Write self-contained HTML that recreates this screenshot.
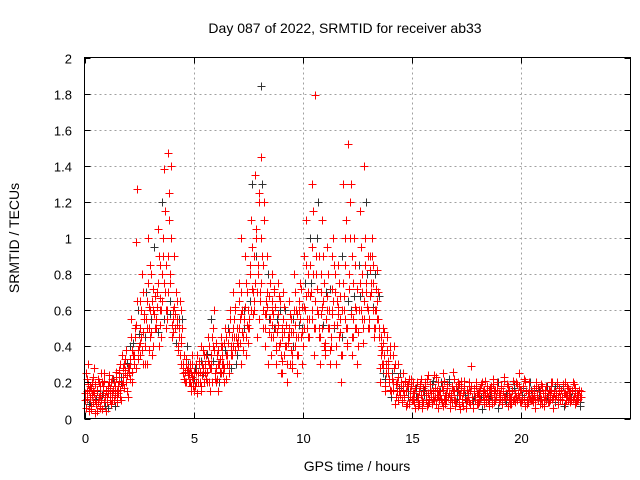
<!DOCTYPE html>
<html><head><meta charset="utf-8"><style>
body{margin:0;background:#fff;}
svg{display:block;font-family:"Liberation Sans",sans-serif;}
</style></head><body>
<svg id="chart" width="640" height="480" viewBox="0 0 640 480">
<rect width="640" height="480" fill="#fff"/>
<text x="345" y="33" font-size="14" text-anchor="middle">Day 087 of 2022, SRMTID for receiver ab33</text>
<g id="grid"></g>
<g id="marks"></g>
<rect x="84.5" y="57.5" width="546" height="361" fill="none" stroke="#000" stroke-width="1"/>
<g id="ticks"></g>
<text x="357" y="471" font-size="14" text-anchor="middle">GPS time / hours</text>
<text transform="translate(19,238) rotate(-90)" font-size="14" text-anchor="middle">SRMTID / TECUs</text>
</svg>
<script>
const xTicks=[0,5,10,15,20];
const yTicks=[0,0.2,0.4,0.6,0.8,1,1.2,1.4,1.6,1.8,2];
const yTickLabels=["0","0.2","0.4","0.6","0.8","1","1.2","1.4","1.6","1.8","2"];
const binStart=0, binWidth=0.25;
const srmtid=[
[.1,.25,.15,.3,.08,.18],[.12,.05,.2,.15,.28,.1],[.08,.15,.22,.12,.18,.06],[.1,.2,.14,.25,.07,.16],
[.12,.18,.24,.1,.15,.2],[.14,.22,.1,.18,.26,.12],[.18,.25,.3,.12,.2,.35],[.2,.3,.25,.38,.15,.28],
[.25,.4,.3,.55,.2,.35],[.3,.5,.98,1.27,.6,.4],[.35,.65,.45,.8,.3,.55],[.4,.7,.3,1.0,.5,.6],
[.45,.8,.35,.6,.95,.5],[.5,.7,1.05,.4,.85,.6],[.6,1.2,.9,1.38,.7,.5],[.55,1.47,1.1,.8,.65,1.0],
[.45,.6,.9,.5,.7,.55],[.4,.55,.65,.45,.6,.5],[.25,.35,.2,.3,.4,.28],[.2,.3,.25,.18,.35,.22],
[.15,.28,.2,.35,.25,.3],[.2,.4,.15,.3,.25,.35],[.25,.35,.2,.45,.3,.15],[.3,.55,.2,.4,.6,.25],
[.2,.35,.15,.3,.25,.45],[.25,.4,.3,.2,.5,.35],[.3,.5,.25,.6,.4,.35],[.35,.7,.45,.6,.3,.5],
[.4,.75,.55,1.0,.3,.6],[.45,.6,.9,.35,.7,.5],[.5,.8,1.1,.6,1.3,.7],[.6,1.35,1.0,.45,.8,1.2],
[.7,1.84,1.45,.9,.5,1.1],[.4,.65,.9,.3,.55,.75],[.35,.6,.8,.45,.7,.5],[.3,.55,.75,.4,.65,.25],
[.25,.5,.7,.35,.6,.4],[.2,.45,.65,.3,.55,.35],[.3,.55,.8,.4,.6,.25],[.35,.6,.75,.45,.5,.3],
[.4,.9,.6,1.1,.5,.7],[.45,1.0,.7,1.3,.55,.8],[.35,1.79,.9,.6,1.2,.5],[.3,.8,1.1,.5,.65,.4],
[.35,.7,.95,.5,.6,.3],[.4,.9,.6,1.0,.5,.7],[.3,.65,.85,.45,.55,.2],[.35,.9,1.3,.6,1.0,.5],
[.4,1.52,.8,1.2,.6,.9],[.35,.75,1.0,.5,.6,.3],[.4,.85,1.15,.6,.7,.5],[.5,1.4,1.0,.7,.8,.6],
[.5,.9,.7,1.0,.6,.75],[.45,.8,.6,.55,.7,.5],[.2,.4,.3,.5,.25,.35],[.15,.3,.45,.25,.2,.35],
[.15,.25,.35,.2,.4,.3],[.12,.2,.3,.15,.25,.18],[.1,.18,.25,.12,.2,.15],[.08,.15,.22,.12,.18,.1],
[.1,.2,.14,.06,.17,.12],[.12,.08,.18,.22,.1,.15],[.09,.16,.2,.13,.07,.24],[.11,.19,.14,.08,.21,.15],
[.1,.17,.23,.12,.06,.15],[.13,.2,.09,.16,.25,.11],[.08,.14,.19,.12,.22,.1],[.12,.18,.26,.1,.15,.07],
[.09,.15,.2,.13,.05,.17],[.11,.07,.16,.21,.13,.1],[.1,.14,.18,.08,.29,.12],[.06,.12,.17,.1,.2,.14],
[.08,.15,.11,.19,.05,.13],[.1,.16,.21,.09,.14,.12],[.07,.13,.18,.1,.22,.15],[.09,.16,.12,.2,.06,.14],
[.11,.18,.08,.15,.23,.12],[.1,.14,.19,.07,.16,.12],[.08,.15,.21,.11,.17,.09],[.12,.19,.13,.25,.09,.16],
[.1,.17,.22,.12,.07,.15],[.08,.14,.2,.11,.16,.1],[.09,.13,.17,.06,.2,.12],[.1,.16,.12,.19,.08,.14],
[.07,.12,.16,.1,.18,.13],[.09,.15,.2,.11,.06,.14],[.11,.18,.13,.2,.08,.15],[.1,.16,.12,.19,.07,.14],
[.08,.13,.18,.1,.15,.11],[.1,.15,.2,.12,.08,.17],[.09,.14,.11,.16,.07,.12]
];
const srmtid2=[
[.14,.06,.22,.11,.19,.04,.16,.09],[.07,.17,.13,.23,.09,.14,.03,.19],[.11,.04,.16,.09,.2,.13,.07,.25],[.05,.13,.18,.09,.21,.12,.04,.15],
[.09,.14,.06,.2,.12,.17,.08,.22],[.1,.16,.2,.07,.13,.23,.15,.09],[.14,.21,.27,.16,.23,.1,.19,.28],[.23,.17,.33,.27,.2,.31,.24,.12],
[.28,.33,.22,.45,.38,.26,.42,.3],[.35,.45,.28,.52,.65,.38,.33,.47],[.42,.5,.6,.38,.7,.48,.58,.3],[.45,.55,.65,.5,.75,.38,.62,.85],
[.48,.55,.65,.72,.4,.58,.5,.68],[.55,.62,.48,.75,.9,.52,.67,.45],[.65,.8,1.0,.55,.75,1.15,.6,.85],[.6,.7,.9,1.25,.58,.75,1.4,.52],
[.48,.55,.62,.5,.58,.42,.65,.52],[.38,.45,.5,.35,.42,.3,.55,.28],[.3,.22,.26,.33,.2,.27,.24,.3],[.25,.2,.28,.15,.23,.3,.18,.26],
[.22,.18,.26,.3,.14,.25,.2,.32],[.26,.32,.18,.24,.38,.28,.2,.3],[.3,.22,.36,.26,.32,.2,.4,.28],[.35,.28,.45,.32,.5,.38,.22,.42],
[.28,.22,.38,.3,.2,.33,.26,.4],[.3,.35,.25,.42,.28,.38,.45,.22],[.35,.42,.3,.48,.55,.38,.28,.45],[.4,.5,.55,.38,.62,.45,.42,.35],
[.45,.5,.65,.42,.58,.7,.48,.38],[.5,.55,.62,.45,.75,.52,.6,.42],[.55,.65,.85,.6,.95,.72,.58,.9],[.65,.75,.9,1.05,.7,.85,1.25,.55],
[.65,.75,1.0,1.3,.6,.85,1.2,.58],[.5,.58,.7,.62,.8,.48,.68,.55],[.45,.52,.65,.58,.72,.5,.62,.4],[.38,.48,.58,.52,.68,.42,.6,.35],
[.32,.45,.55,.48,.62,.4,.52,.3],[.3,.42,.5,.45,.58,.38,.48,.28],[.4,.48,.6,.52,.7,.45,.58,.35],[.45,.52,.65,.55,.72,.48,.62,.4],
[.5,.62,.75,.68,.85,.55,.8,.45],[.55,.68,.85,.75,.95,.6,1.15,.5],[.5,.65,.8,.72,1.0,.58,.9,.45],[.45,.58,.7,.62,.9,.52,.75,.38],
[.42,.55,.68,.6,.8,.5,.72,.38],[.45,.58,.72,.65,.85,.52,.8,.4],[.4,.52,.62,.58,.75,.48,.68,.35],[.45,.6,.75,.68,.85,.55,1.1,.42],
[.5,.65,.8,.72,1.0,.58,1.3,.45],[.45,.55,.68,.62,.85,.5,.72,.4],[.48,.6,.75,.68,.95,.55,.8,.42],[.55,.65,.85,.75,1.2,.62,.9,.5],
[.55,.68,.82,.75,.9,.62,.85,.5],[.5,.6,.72,.65,.82,.55,.68,.45],[.28,.35,.45,.38,.42,.3,.48,.22],[.18,.25,.38,.28,.32,.22,.4,.16],
[.12,.22,.16,.28,.08,.19],[.15,.1,.23,.17,.13,.2],[.09,.16,.13,.21,.07,.18],[.12,.19,.08,.15,.22,.11],
[.14,.09,.17,.12,.2,.07],[.1,.15,.19,.13,.06,.17],[.13,.18,.1,.22,.14,.08],[.09,.16,.12,.19,.11,.24],
[.12,.08,.16,.2,.13,.1],[.15,.11,.18,.07,.21,.13],[.1,.17,.12,.2,.14,.06],[.13,.09,.16,.22,.1,.18],
[.11,.16,.08,.19,.13,.21],[.09,.14,.18,.11,.06,.16],[.12,.2,.09,.15,.18,.1],[.1,.15,.12,.18,.08,.14],
[.13,.09,.17,.12,.2,.15],[.08,.14,.11,.18,.1,.16],[.11,.17,.13,.08,.19,.14],[.1,.12,.16,.2,.14,.09],
[.13,.17,.1,.15,.21,.12],[.09,.13,.18,.11,.15,.08],[.12,.16,.1,.19,.14,.2],[.1,.14,.18,.12,.16,.09],
[.13,.18,.11,.21,.15,.1],[.09,.12,.16,.2,.1,.14],[.11,.15,.1,.18,.13,.17],[.12,.08,.15,.11,.18,.14],
[.1,.14,.18,.12,.09,.16],[.13,.1,.16,.2,.12,.15],[.09,.14,.19,.12,.17,.11],[.12,.16,.1,.18,.14,.2],
[.1,.13,.17,.12,.15,.09],[.12,.16,.11,.19,.14,.1],[.1,.13,.16,.09,.12,.15]
];
const NS="http://www.w3.org/2000/svg";
const L=84.5,R=630.5,T=57.5,B=418.5;
const xMax=25, yMax=2;
function xs(v){return L+(v/xMax)*(R-L);}
function ys(v){return B-(v/yMax)*(B-T);}
const grid=document.getElementById('grid'),ticks=document.getElementById('ticks'),marks=document.getElementById('marks');
function line(p,x1,y1,x2,y2,st,dash){const l=document.createElementNS(NS,'line');l.setAttribute('x1',x1);l.setAttribute('y1',y1);l.setAttribute('x2',x2);l.setAttribute('y2',y2);l.setAttribute('stroke',st);l.setAttribute('stroke-width',1);if(dash)l.setAttribute('stroke-dasharray',dash);p.appendChild(l);return l;}
xTicks.forEach(v=>{const x=Math.round(xs(v))+0.5;
 if(v>0){const g=line(grid,x,T,x,B,'#a0a0a0','2,3');}
 const t1=line(ticks,x,B,x,B-6,'#000');
 line(ticks,x,T,x,T+6,'#000');
 const tx=document.createElementNS(NS,'text');tx.setAttribute('x',x);tx.setAttribute('y',443);tx.setAttribute('font-size','13');tx.setAttribute('text-anchor','middle');tx.textContent=String(v);
 
 
 ticks.appendChild(tx);});
yTicks.forEach((v,i)=>{const y=Math.round(ys(v))+0.5;
 if(v>0&&v<yMax){const g=line(grid,L,y,R,y,'#a0a0a0','2,3');}
 const t1=line(ticks,L,y,L+6,y,'#000');
 line(ticks,R,y,R-6,y,'#000');
 const tx=document.createElementNS(NS,'text');tx.setAttribute('x',72);tx.setAttribute('y',y+5);tx.setAttribute('font-size','13');tx.setAttribute('text-anchor','end');tx.textContent=yTickLabels[i];
 
 
 ticks.appendChild(tx);});
let pathR='',pathK='',k=0;
function addSeries(arr,off){arr.forEach((bin,b)=>{bin.forEach((v,j)=>{
 const t=binStart+b*binWidth+((j+off)%bin.length+0.5)*binWidth/bin.length;
 const x=Math.round(xs(t))+0.5,y=Math.round(ys(v))+0.5;
 const d=`M${x-4} ${y}h8M${x} ${y-4}v8`;
 if(k%9===4)pathK+=d;else pathR+=d;k++;});});}
addSeries(srmtid,0);
addSeries(srmtid2,0.5);
const pk=document.createElementNS(NS,'path');pk.setAttribute('d',pathK);pk.setAttribute('stroke','#333');pk.setAttribute('fill','none');


marks.appendChild(pk);
const pr=document.createElementNS(NS,'path');pr.setAttribute('d',pathR);pr.setAttribute('stroke','#f00');pr.setAttribute('fill','none');


marks.appendChild(pr);
</script>
</body></html>
